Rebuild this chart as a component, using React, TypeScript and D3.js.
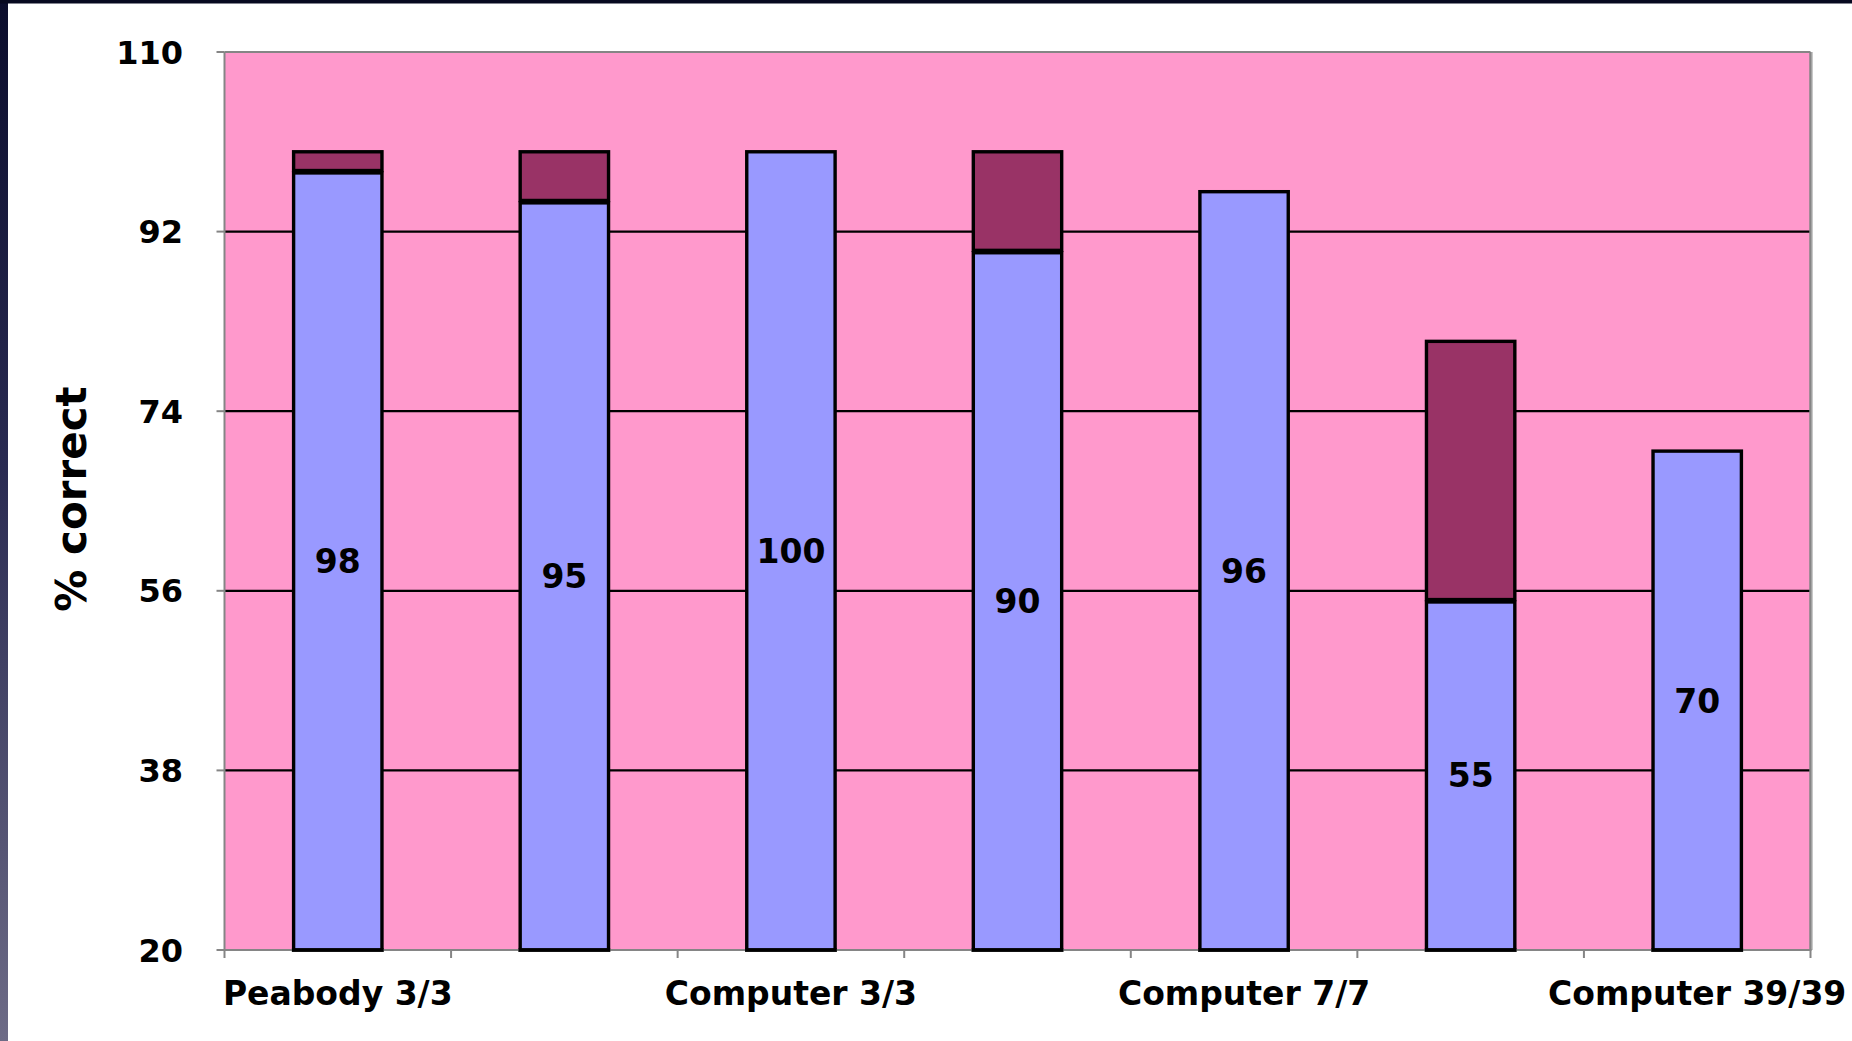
import React from "react";
import * as d3 from "d3";

// Category labels along the x axis (only every other slot carries a label)
const categories: string[] = [
  "Peabody 3/3",
  "",
  "Computer 3/3",
  "",
  "Computer 7/7",
  "",
  "Computer 39/39",
];
// Lower (labelled) segment: percent correct
const correct: number[] = [98, 95, 100, 90, 96, 55, 70];
// Upper stacked segment
const extra: number[] = [2, 5, 0, 10, 0, 26, 0];
// Y axis ticks
const yTicks: number[] = [20, 38, 56, 74, 92, 110];

const W = 1852;
const H = 1041;
const FONT = "'DejaVu Sans', Verdana, sans-serif";

const plot = { left: 224.5, right: 1810.5, top: 52, bottom: 950 };

export default function App() {
  const y = d3.scaleLinear().domain([20, 110]).range([plot.bottom, plot.top]);
  const x = d3
    .scaleBand<number>()
    .domain(d3.range(categories.length))
    .range([plot.left, plot.right])
    .paddingInner(0.61)
    .paddingOuter(0.305);
  const step = x.step();
  const bw = x.bandwidth();
  const boundaries = d3.range(categories.length + 1).map((k) => plot.left + k * step);
  const gap = 1.2; // keeps the two segment outlines side by side
  const barStroke = 3.4;

  const grid = "#000000";
  const axisGray = "#858585";

  return (
    <svg
      width={W}
      height={H}
      style={{ position: "fixed", left: 0, top: 0, display: "block" }}
      xmlns="http://www.w3.org/2000/svg"
    >
      <defs>
        <linearGradient id="edge" x1="0" y1="0" x2="0" y2="1">
          <stop offset="0" stopColor="#0b0d2c" />
          <stop offset="0.45" stopColor="#2a2b52" />
          <stop offset="1" stopColor="#6d6b86" />
        </linearGradient>
      </defs>
      <rect x={0} y={0} width={W} height={H} fill="#ffffff" />
      <rect x={0} y={0} width={8} height={H} fill="url(#edge)" />
      <rect x={0} y={0} width={W} height={3.5} fill="#070920" />

      {/* plot area */}
      <rect
        x={plot.left}
        y={plot.top}
        width={plot.right - plot.left}
        height={plot.bottom - plot.top}
        fill="#ff99cc"
      />

      {/* gridlines */}
      {yTicks
        .filter((t) => t !== 20 && t !== 110)
        .map((t) => (
          <line
            key={"g" + t}
            x1={plot.left}
            x2={plot.right}
            y1={y(t)}
            y2={y(t)}
            stroke={grid}
            strokeWidth={2.2}
          />
        ))}

      {/* plot border */}
      <line x1={plot.left} x2={plot.right} y1={plot.top} y2={plot.top} stroke={axisGray} strokeWidth={2} />
      <line x1={plot.right} x2={plot.right} y1={plot.top} y2={plot.bottom} stroke={axisGray} strokeWidth={2.5} />
      <line x1={plot.right + 2} x2={plot.right + 2} y1={plot.top} y2={plot.bottom} stroke="#c8c8c8" strokeWidth={1} />

      {/* bars */}
      {correct.map((v, i) => {
        const x0 = x(i) as number;
        const e = extra[i];
        return (
          <g key={"b" + i}>
            <rect
              x={x0}
              y={y(v) + (e > 0 ? gap : 0)}
              width={bw}
              height={y(20) - y(v) - (e > 0 ? gap : 0)}
              fill="#9999ff"
              stroke="#000"
              strokeWidth={barStroke}
            />
            {e > 0 && (
              <rect
                x={x0}
                y={y(v + e)}
                width={bw}
                height={y(v) - y(v + e) - gap}
                fill="#993366"
                stroke="#000"
                strokeWidth={barStroke}
              />
            )}
          </g>
        );
      })}

      {/* axes */}
      <line x1={plot.left} x2={plot.left} y1={plot.top} y2={plot.bottom + 1} stroke={axisGray} strokeWidth={2} />
      <line x1={plot.left - 1} x2={plot.right + 1} y1={plot.bottom} y2={plot.bottom} stroke={axisGray} strokeWidth={2} />
      {yTicks.map((t) => (
        <line key={"yt" + t} x1={plot.left - 8} x2={plot.left} y1={y(t)} y2={y(t)} stroke={axisGray} strokeWidth={2} />
      ))}
      {boundaries.map((bx, k) => (
        <line key={"xt" + k} x1={bx} x2={bx} y1={plot.bottom} y2={plot.bottom + 8} stroke={axisGray} strokeWidth={2} />
      ))}

      {/* redraw bar bases over the axis */}
      {correct.map((v, i) => (
        <line
          key={"base" + i}
          x1={(x(i) as number) - barStroke / 2}
          x2={(x(i) as number) + bw + barStroke / 2}
          y1={y(20)}
          y2={y(20)}
          stroke="#000"
          strokeWidth={barStroke}
        />
      ))}

      {/* y tick labels */}
      {yTicks.map((t) => (
        <text
          key={"yl" + t}
          x={183}
          y={y(t) + 11.5}
          textAnchor="end"
          fontFamily={FONT}
          fontWeight="bold"
          fontSize={32}
          fill="#000"
        >
          {t}
        </text>
      ))}

      {/* category labels */}
      {categories.map((c, i) =>
        c ? (
          <text
            key={"c" + i}
            x={(x(i) as number) + bw / 2}
            y={1005}
            textAnchor="middle"
            fontFamily={FONT}
            fontWeight="bold"
            fontSize={33}
            fill="#000"
          >
            {c}
          </text>
        ) : null
      )}

      {/* value labels centred in the lower segment */}
      {correct.map((v, i) => (
        <text
          key={"v" + i}
          x={(x(i) as number) + bw / 2}
          y={y((20 + v) / 2) + 12}
          textAnchor="middle"
          fontFamily={FONT}
          fontWeight="bold"
          fontSize={33}
          fill="#000"
        >
          {v}
        </text>
      ))}

      {/* y axis title */}
      <text
        transform={`translate(86, 499) rotate(-90)`}
        textAnchor="middle"
        fontFamily={FONT}
        fontWeight="bold"
        fontSize={42}
        fill="#000"
      >
        % correct
      </text>
    </svg>
  );
}
